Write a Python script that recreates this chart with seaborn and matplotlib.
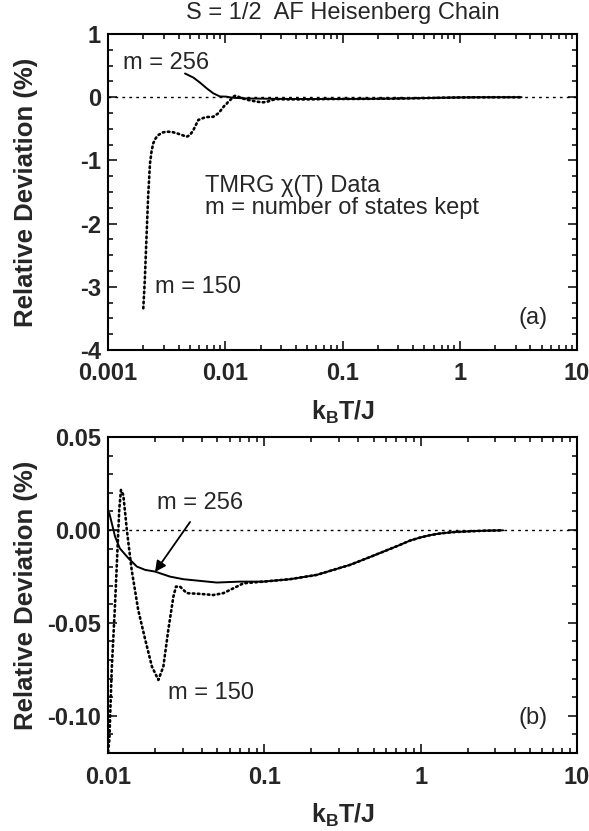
import numpy as np
import pandas as pd
import matplotlib
matplotlib.use("Agg")
import matplotlib.pyplot as plt
import seaborn as sns
from matplotlib.ticker import LogLocator, MultipleLocator, NullFormatter

# ---------------- data ----------------
# m = 256 (solid curve)
T_256 = [0.00454, 0.00535, 0.0061, 0.00695, 0.0079, 0.0090, 0.0102, 0.0111,
         0.0119, 0.0135, 0.0153, 0.0173, 0.0200, 0.0249, 0.0303, 0.0388,
         0.0496, 0.070, 0.0986, 0.146, 0.216, 0.353, 0.50, 0.74, 0.85,
         1.00, 1.15, 1.33, 1.60, 1.97, 2.60, 3.37]
dev_256 = [0.375, 0.31, 0.23, 0.14, 0.062, 0.012, 0.009, -0.0036,
           -0.0099, -0.0152, -0.0197, -0.0215, -0.0224, -0.0251, -0.0265, -0.0274,
           -0.0283, -0.0278, -0.0278, -0.0265, -0.0242, -0.0188, -0.0138, -0.0080, -0.0058,
           -0.0040, -0.0028, -0.0019, -0.0012, -0.0008, -0.0004, -0.0002]

# m = 150 (dotted curve)
T_150 = [0.00200, 0.00206, 0.00213, 0.00220, 0.00228, 0.00235, 0.00243, 0.00255,
         0.00268, 0.00290, 0.00316, 0.00350, 0.00385, 0.00430, 0.00469, 0.00500,
         0.00535, 0.00589, 0.0068, 0.0079, 0.0088, 0.0095, 0.0100,
         0.0102, 0.01056, 0.0111, 0.01147, 0.0118, 0.0121, 0.01253, 0.0132,
         0.01417, 0.0156, 0.0173, 0.0191, 0.0210, 0.0226, 0.0243, 0.0262,
         0.0272, 0.0289, 0.0319, 0.0388, 0.0472, 0.0547, 0.0634, 0.0735,
         0.0986, 0.146, 0.216, 0.353, 0.50, 0.74, 0.85, 1.00, 1.15, 1.33,
         1.60, 1.97, 2.60, 3.37]
dev_150 = [-3.34, -2.90, -2.21, -1.57, -1.05, -0.86, -0.73, -0.65,
           -0.60, -0.56, -0.545, -0.55, -0.57, -0.60, -0.625, -0.60,
           -0.52, -0.36, -0.315, -0.31, -0.25, -0.17, -0.12,
           -0.113, -0.0753, -0.0394, -0.0125, 0.0108, 0.0215, 0.0188, 0.0,
           -0.0215, -0.043, -0.059, -0.0735, -0.0807, -0.0735, -0.0538, -0.0359,
           -0.0305, -0.0305, -0.034, -0.0344, -0.035, -0.034, -0.0314, -0.0287,
           -0.0278, -0.0265, -0.0242, -0.0188, -0.0138, -0.0080, -0.0058, -0.0040,
           -0.0028, -0.0019, -0.0012, -0.0008, -0.0004, -0.0002]

xticks_a = [0.001, 0.01, 0.1, 1, 10]
xlabels_a = ["0.001", "0.01", "0.1", "1", "10"]
yticks_a = [1, 0, -1, -2, -3, -4]
ylabels_a = ["1", "0", "-1", "-2", "-3", "-4"]

xticks_b = [0.01, 0.1, 1, 10]
xlabels_b = ["0.01", "0.1", "1", "10"]
yticks_b = [0.05, 0.0, -0.05, -0.10]
ylabels_b = ["0.05", "0.00", "-0.05", "-0.10"]

df256 = pd.DataFrame({"T": T_256, "dev": dev_256})
df150 = pd.DataFrame({"T": T_150, "dev": dev_150})

# ---------------- style ----------------
sns.set_theme(style="ticks")
plt.rcParams.update({
    "axes.unicode_minus": False,
    "axes.linewidth": 1.5,
    "axes.edgecolor": "black",
    "mathtext.fontset": "custom",
    "mathtext.rm": "Liberation Sans:bold",
    "mathtext.it": "Liberation Sans:bold",
    "mathtext.bf": "Liberation Sans:bold",
})
plt.rcParams["font.family"] = ["Liberation Sans", "DejaVu Sans"]

W, H = 589, 831
fig = plt.figure(figsize=(W / 100, H / 100), dpi=100)
fig.patch.set_facecolor("white")
L, R = 108, 577
ax1 = fig.add_axes([L / W, 1 - 350 / H, (R - L) / W, 316 / H])
ax2 = fig.add_axes([L / W, 1 - 753 / H, (R - L) / W, 316 / H])

for ax in (ax1, ax2):
    ax.set_facecolor("white")
    ax.axhline(0, color="black", lw=1.0, ls=(0, (2, 3)), zorder=1)
    sns.lineplot(data=df256, x="T", y="dev", ax=ax, color="black", lw=1.4,
                 estimator=None, sort=False, zorder=3)
    sns.lineplot(data=df150, x="T", y="dev", ax=ax, color="black", lw=1.9,
                 linestyle=(0, (0.6, 1.3)), dash_capstyle="round",
                 estimator=None, sort=False, zorder=2)
    ax.set_xscale("log")
    ax.xaxis.set_minor_locator(LogLocator(base=10, subs=np.arange(2, 10)))
    ax.xaxis.set_minor_formatter(NullFormatter())
    ax.tick_params(which="both", direction="in", top=True, right=True,
                   color="black", width=1.1)
    ax.tick_params(which="major", length=6.5, labelsize=17)
    ax.tick_params(axis="y", which="major", pad=5)
    ax.tick_params(axis="x", which="major", pad=9)
    ax.tick_params(which="minor", length=3.5)
    for s in ax.spines.values():
        s.set_visible(True)
        s.set_linewidth(1.5)

# panel (a)
ax1.set_xlim(0.001, 10)
ax1.set_ylim(-4, 1)
ax1.set_xticks(xticks_a, xlabels_a, fontweight="bold")
ax1.set_yticks(yticks_a, ylabels_a, fontweight="bold")
ax1.yaxis.set_minor_locator(MultipleLocator(0.25))

# panel (b)
ax2.set_xlim(0.01, 10)
ax2.set_ylim(-0.12, 0.05)
ax2.set_xticks(xticks_b, xlabels_b, fontweight="bold")
ax2.set_yticks(yticks_b, ylabels_b, fontweight="bold")
ax2.yaxis.set_minor_locator(MultipleLocator(0.01))

for ax in (ax1, ax2):
    ax.set_xlabel(r"$\mathrm{k_BT/J}$", fontsize=18)
    ax.set_ylabel("Relative Deviation (%)", fontsize=18.5, fontweight="bold")
    ax.xaxis.set_label_coords(0.5, -0.155)
    ax.yaxis.set_label_coords(-0.15, 0.5)

fs = 17
ax1.text(0.5, 1 + 21 / 316, "S = 1/2  AF Heisenberg Chain", transform=ax1.transAxes,
         ha="center", va="center", fontsize=fs)
ax1.text(0.00134, 0.54, "m = 256", ha="left", va="center", fontsize=fs)
ax1.text(0.00251, -3.0, "m = 150", ha="left", va="center", fontsize=fs)
ax1.text(0.0067, -1.40, "TMRG χ(T) Data", ha="left", va="center", fontsize=fs)
ax1.text(0.0067, -1.76, "m = number of states kept", ha="left", va="center", fontsize=fs)
ax1.text(0.938, 0.101, "(a)", transform=ax1.transAxes, ha="right", va="center", fontsize=fs)

ax2.text(0.0206, 0.0145, "m = 256", ha="left", va="center", fontsize=fs)
ax2.text(0.0242, -0.0877, "m = 150", ha="left", va="center", fontsize=fs)
ax2.annotate("", xy=(0.0200, -0.0226), xytext=(0.0335, 0.0043),
             arrowprops=dict(arrowstyle="-|>", color="black", lw=1.3,
                             mutation_scale=16, shrinkA=0, shrinkB=0))
ax2.text(0.938, 0.111, "(b)", transform=ax2.transAxes, ha="right", va="center", fontsize=fs)

fig.savefig("out.png", dpi=100, facecolor="white")
